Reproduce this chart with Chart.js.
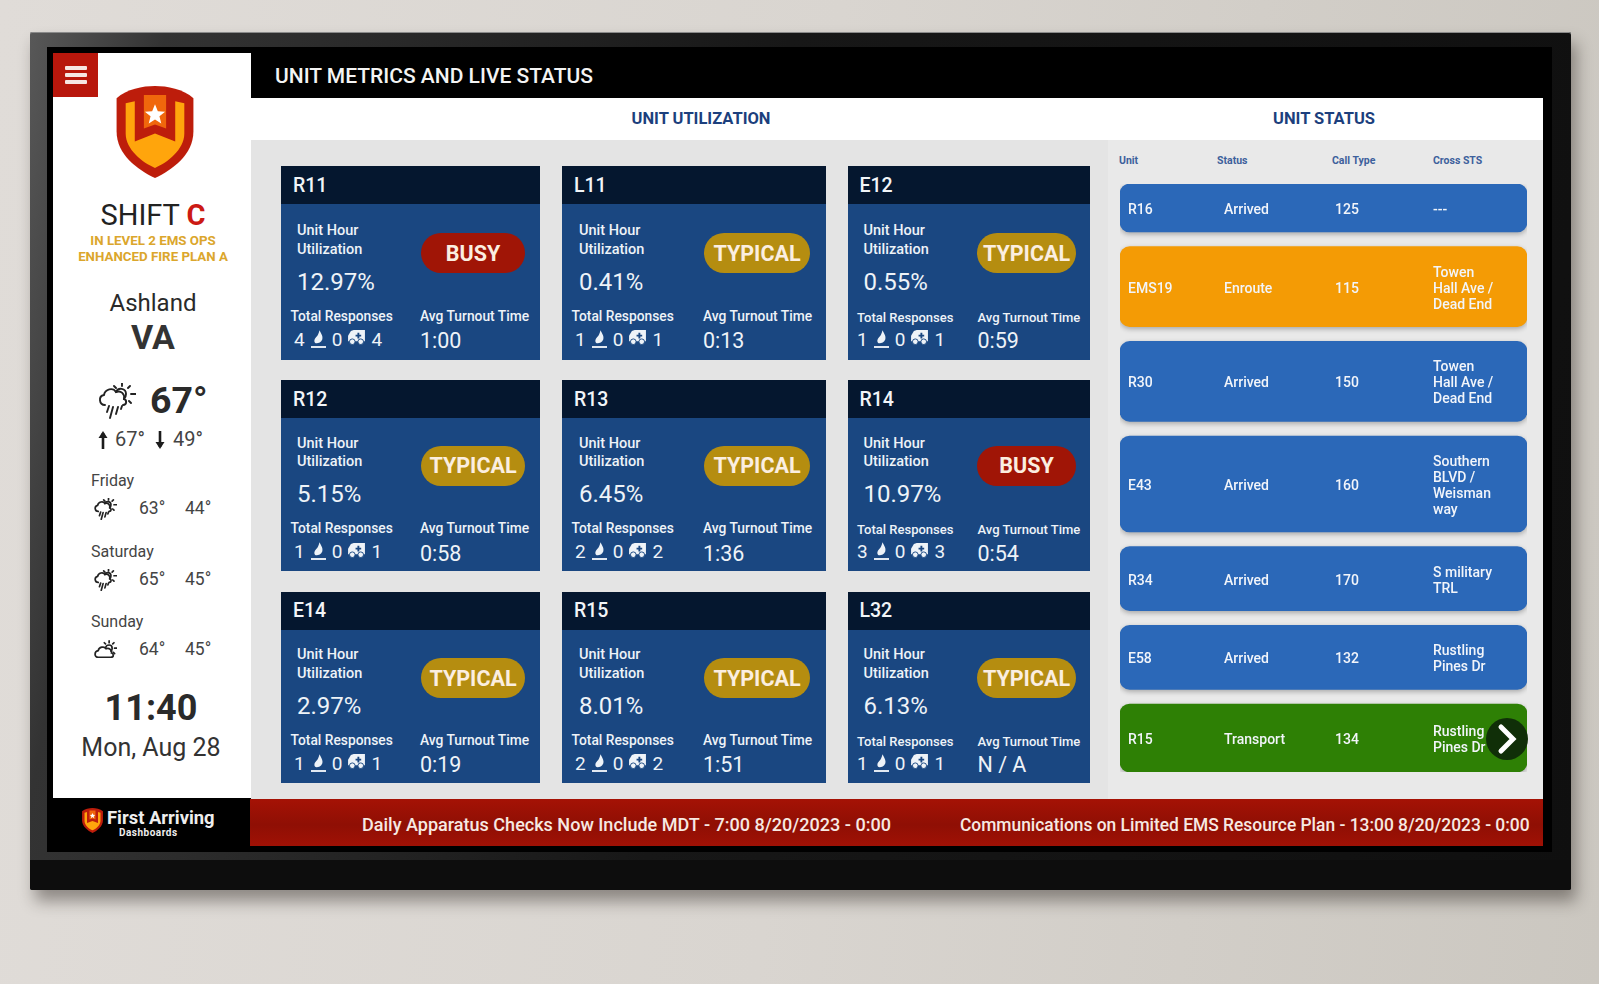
<!DOCTYPE html>
<html>
<head>
<meta charset="utf-8">
<title>Unit Metrics and Live Status</title>
<script src="https://cdn.jsdelivr.net/npm/chart.js@4"></script>
<style>
  html, body { margin: 0; padding: 0; width: 1599px; height: 984px; overflow: hidden; font-family: Roboto, sans-serif; }
  body { background: linear-gradient(95deg, #e0dcd8 0%, #d9d5d0 50%, #cbc7c0 100%); position: relative; }
  .abs, .abs * { box-sizing: border-box; }
  .abs { position: absolute; }
  .t { position: absolute; white-space: nowrap; line-height: 1; transform: translateY(-50%); }
  .c { transform: translate(-50%, -50%); }
  #tv { left: 30px; top: 32px; width: 1541px; height: 858px; background: linear-gradient(100deg, #585858 0, #333 8%, #171717 45%, #0f0f0f 100%); border-radius: 2px; box-shadow: 5px 11px 16px rgba(30,25,20,.42), inset 0 1px 0 #8a8a8a; }
  #tv-in { left: 47px; top: 47px; width: 1505px; height: 805px; background: #000; }
  #chin { left: 30px; top: 860px; width: 1541px; height: 30px; background: #0d0d0d; border-radius: 0 0 2px 2px; }
  #side { left: 53px; top: 53px; width: 198px; height: 745px; background: #fff; color: #333; }
  #burger { left: 53px; top: 53px; width: 45px; height: 44px; background: #b8170c; }
  #burger i { position: absolute; left: 12px; width: 22px; height: 4px; background: #f6e6e3; border-radius: 1px; }
  #topbar { left: 251px; top: 53px; width: 1292px; height: 45px; background: #000; }
  #sub { left: 251px; top: 98px; width: 1292px; height: 42px; background: #fff; }
  #main { left: 251px; top: 140px; width: 857px; height: 659px; background: #e4e4e4; }
  #right { left: 1108px; top: 140px; width: 435px; height: 659px; background: #e9e9e9; }
  #foot { left: 53px; top: 798px; width: 197px; height: 48px; background: #000; }
  #ticker { left: 250px; top: 799px; width: 1293px; height: 47px; background: linear-gradient(#a51205, #8f0f04 55%, #a01105); }
  .card { position: absolute; background: #1a4781; color: #eef3f8; }
  .card .hd { position: absolute; left: 0; top: 0; width: 100%; height: 38px; background: #05172f; }
  .pill { position: absolute; height: 40px; border-radius: 20px; color: #fbeee0; font-size: 21.5px; font-weight: 700; display: flex; align-items: center; justify-content: center; }
  .pill.busy { background: #a01506; }
  .pill.typical { background: #b58d10; }
  .counts { position: absolute; left: 13px; display: flex; align-items: center; font-size: 19px; font-weight: 400; height: 24px; transform: translateY(-50%); }
  .counts svg { display: block; }
  .rowtxt { position: absolute; color: #f2f5fa; font-size: 14px; font-weight: 500; line-height: 16px; transform: translateY(-50%); white-space: nowrap; }
  #next { left: 1486px; top: 718px; width: 42px; height: 42px; border-radius: 21px; background: #102f08; }
  #statusCanvas { position: absolute; left: 1110px; top: 174px; }
</style>
</head>
<body>

<svg width="0" height="0" style="position:absolute">
  <symbol id="rain" viewBox="0 0 38 36">
    <g fill="none" stroke="#222" stroke-linecap="round">
      <path d="M7 22 C1 22 0 13 6 12 C7 6 15 4 18 9 C23 7 27 11 26 16 C29 17 29 22 25 22"/>
      <path d="M18 9 C20 4 28 5 28 11 C28 13 27 15 26 16"/>
      <path d="M24 0 V3 M16 3 L18 5 M32 3 L30 5 M33 11 H38 M31 18 L33 20"/>
      <path d="M11 23 L9 29 M15 24 L12 35 M20 24 L18 31 M24 23 L23 26"/>
    </g>
  </symbol>
  <symbol id="cloud" viewBox="0 0 38 30">
    <g fill="none" stroke="#222" stroke-linecap="round">
      <path d="M7 27 C0 27 0 17 7 16 C8 10 17 8 20 13 C25 11 30 15 29 20 C33 21 33 27 28 27 Z"/>
      <path d="M19 12 C20 5 30 5 30 12 C30 14 29 16 28 17"/>
      <path d="M25 0 V3 M17 3 L19 5 M33 3 L31 5 M34 12 H38 M32 19 L34 21"/>
    </g>
  </symbol>
  <symbol id="arrow" viewBox="0 0 12 20">
    <path d="M6 19 V3" stroke="#1c1c1c" stroke-width="2.6" fill="none"/>
    <path d="M1.5 8 L6 1 L10.5 8 Z" fill="#1c1c1c"/>
  </symbol>
  <symbol id="flame" viewBox="0 0 16 20">
    <path fill="#eef3f8" d="M9 0 C11 4 13 6 12 10 C11 13 8 14 6 14 C3 14 3 10 5 8 C6 7 8 5 9 0 Z"/>
    <rect x="0" y="17" width="16" height="2" fill="#eef3f8"/>
  </symbol>
  <symbol id="amb" viewBox="0 0 18 16">
    <path fill="#eef3f8" d="M6 0 H18 V12 H0 V6 L3 1 Z"/>
    <circle cx="4.5" cy="12.5" r="3" fill="#eef3f8" stroke="#1a4781"/>
    <circle cx="13.5" cy="12.5" r="3" fill="#eef3f8" stroke="#1a4781"/>
    <path d="M11 3 V9 M8 6 H14" stroke="#1a4781" stroke-width="2"/>
  </symbol>
  <symbol id="shield" viewBox="0 0 76 91">
    <path fill="#bd1d0b" d="M38 0 C50 0 66 3 76 12 L76 45 C76 68 55 83 38 91 C21 83 0 68 0 45 L0 12 C10 3 26 0 38 0 Z"/>
    <path fill="#ffa50c" d="M9 17 L18 15 L18 55 L38 47 L58 55 L58 15 L67 17 L67 47 C67 63 50 76 38 81 C26 76 9 63 9 47 Z"/>
    <path fill="#f0670c" d="M27 9 L49 9 L49 42 L38 38 L27 42 Z"/>
    <path fill="#fff" d="M38 18 L40.8 25 L48 25.4 L42.4 30 L44.2 37 L38 33.2 L31.8 37 L33.6 30 L28 25.4 L35.2 25 Z"/>
  </symbol>
</svg>

<div class="abs" id="tv"></div>
<div class="abs" id="tv-in"></div>
<div class="abs" id="chin"></div>
<div class="abs" id="side"></div>
<div class="abs" id="burger"><i style="top:13px"></i><i style="top:20px"></i><i style="top:27px"></i></div>
<div class="abs" id="topbar"></div>
<div class="abs" id="sub"></div>
<div class="abs" id="main"></div>
<div class="abs" id="right"></div>
<div class="abs" id="foot"></div>
<div class="abs" id="ticker"></div>
<div id="layer"></div>
<canvas id="statusCanvas" width="427" height="608"></canvas>
<div id="rowLayer"></div>
<div class="abs" id="next">
  <svg width="42" height="42" viewBox="0 0 42 42"><path d="M15 9 L27 21 L15 33" fill="none" stroke="#fff" stroke-width="5" stroke-linecap="round"/></svg>
</div>

<script>
// unit utilization cards
const unitNames = ['R11', 'L11', 'E12', 'R12', 'R13', 'R14', 'E14', 'R15', 'L32'];
const utilization = ['12.97%', '0.41%', '0.55%', '5.15%', '6.45%', '10.97%', '2.97%', '8.01%', '6.13%'];
const loadLabels = ['BUSY', 'TYPICAL', 'TYPICAL', 'TYPICAL', 'TYPICAL', 'BUSY', 'TYPICAL', 'TYPICAL', 'TYPICAL'];
const totalResponses = [4, 1, 1, 1, 2, 3, 1, 2, 1];
const fireResponses = [0, 0, 0, 0, 0, 0, 0, 0, 0];
const emsResponses = [4, 1, 1, 1, 2, 3, 1, 2, 1];
const turnoutTimes = ['1:00', '0:13', '0:59', '0:58', '1:36', '0:54', '0:19', '1:51', 'N / A'];

// unit status rows
const statusUnits = ['R16', 'EMS19', 'R30', 'E43', 'R34', 'E58', 'R15'];
const statusNames = ['Arrived', 'Enroute', 'Arrived', 'Arrived', 'Arrived', 'Arrived', 'Transport'];
const callTypes = ['125', '115', '150', '160', '170', '132', '134'];
const crossStreets = [
  ['---'],
  ['Towen', 'Hall Ave /', 'Dead End'],
  ['Towen', 'Hall Ave /', 'Dead End'],
  ['Southern', 'BLVD /', 'Weisman', 'way'],
  ['S military', 'TRL'],
  ['Rustling', 'Pines Dr'],
  ['Rustling', 'Pines Dr']
];
const statusHeaders = ['Unit', 'Status', 'Call Type', 'Cross STS'];

// sidebar
const forecastDays = ['Friday', 'Saturday', 'Sunday'];
const forecastHigh = ['63°', '65°', '64°'];
const forecastLow = ['44°', '45°', '45°'];
const forecastIcon = ['rain', 'rain', 'cloud'];
const tickerItems = ['Daily Apparatus Checks Now Include MDT - 7:00 8/20/2023 - 0:00', 'Communications on Limited EMS Resource Plan - 13:00 8/20/2023 - 0:00'];

const statusColors = { Arrived: '#2b68b8', Enroute: '#f49b05', Transport: '#2e8005' };

const layer = document.getElementById('layer');

function addText(parent, text, x, y, css, center) {
  const el = document.createElement('div');
  el.className = center ? 't c' : 't';
  el.textContent = text;
  el.style.left = x + 'px';
  el.style.top = y + 'px';
  el.style.cssText += css;
  parent.appendChild(el);
  return el;
}

function addIcon(id, x, y, w, h, css) {
  const el = document.createElement('div');
  el.innerHTML = `<svg width="${w}" height="${h}" style="display:block;${css || ''}"><use href="#${id}"/></svg>`;
  el.style.cssText = `position:absolute;left:${x}px;top:${y}px;`;
  layer.appendChild(el);
}

// --- header texts
addText(layer, 'UNIT METRICS AND LIVE STATUS', 275, 76, 'font-size:21px;font-weight:500;color:#f4f4f4;');
addText(layer, 'UNIT UTILIZATION', 701, 118.5, 'font-size:16.5px;font-weight:700;color:#1c3f7d;', true);
addText(layer, 'UNIT STATUS', 1324, 118.5, 'font-size:16.5px;font-weight:700;color:#1c3f7d;', true);

// --- sidebar
addIcon('shield', 116, 86, 78, 92);
const shift = addText(layer, 'SHIFT ', 153, 215, 'font-size:29px;font-weight:400;color:#222;', true);
const shiftC = document.createElement('span');
shiftC.textContent = 'C';
shiftC.style.cssText = 'font-weight:700;color:#cc1a14;';
shift.appendChild(shiftC);
addText(layer, 'IN LEVEL 2 EMS OPS', 153, 241, 'font-size:13.3px;font-weight:700;color:#dba62c;', true);
addText(layer, 'ENHANCED FIRE PLAN A', 153, 257, 'font-size:13.3px;font-weight:700;color:#dba62c;', true);
addText(layer, 'Ashland', 153, 303, 'font-size:24px;color:#2a2a2a;', true);
addText(layer, 'VA', 153, 337, 'font-size:34px;font-weight:700;color:#333;', true);
addIcon('rain', 98, 383, 38, 36, 'stroke-width:1.9;');
addText(layer, '67°', 150, 401, 'font-size:37.5px;font-weight:700;color:#2a2a2a;');
addIcon('arrow', 97, 430, 12, 20);
addText(layer, '67°', 115, 439, 'font-size:20px;color:#444;');
addIcon('arrow', 154, 430, 12, 20, 'transform:scaleY(-1);');
addText(layer, '49°', 173, 439, 'font-size:20px;color:#444;');
forecastDays.forEach((day, i) => {
  const top = 481 + i * 70.5;
  addText(layer, day, 91, top, 'font-size:16px;color:#444;');
  addIcon(forecastIcon[i], 94, top + 17, 23, 22, 'stroke-width:2.8;');
  addText(layer, forecastHigh[i], 139, top + 28, 'font-size:17.5px;color:#444;');
  addText(layer, forecastLow[i], 185, top + 28, 'font-size:17.5px;color:#444;');
});
addText(layer, '11:40', 151, 708, 'font-size:36px;font-weight:700;color:#2a2a2a;', true);
addText(layer, 'Mon, Aug 28', 151, 747, 'font-size:25px;color:#333;', true);

// --- footer
addIcon('shield', 82, 808, 21, 25);
addText(layer, 'First Arriving', 107, 817.5, 'font-size:18.4px;font-weight:700;color:#eee;');
addText(layer, 'Dashboards', 119, 832.5, 'font-size:10px;font-weight:700;color:#eee;letter-spacing:.5px;');
addText(layer, tickerItems[0], 362, 823.5, 'font-size:19px;font-weight:500;color:#f7e9e2;transform:translateY(-50%) scaleX(.949);transform-origin:left center;');
addText(layer, tickerItems[1], 960, 823.5, 'font-size:19px;font-weight:500;color:#f7e9e2;transform:translateY(-50%) scaleX(.915);transform-origin:left center;');

// --- utilization cards
const colLeft = [281, 562, 847.5];
const colWidth = [259, 264, 242.5];
const colRight = [139, 141, 130];
const colUnitX = [16, 17, 16];
const colSmallFont = [13.8, 13.8, 13];
const pillWidth = [104, 106, 99];
const pillRight = [15, 16, 14];
const rowTop = [166, 380, 591.5];
const rowHeight = [194, 191, 191.5];
const pillTop = [67, 65.5, 66.5];

unitNames.forEach((name, i) => {
  const col = i % 3;
  const row = Math.floor(i / 3);
  const off = row === 0 ? 0 : -1.5;
  const card = document.createElement('div');
  card.className = 'card';
  card.style.cssText = `left:${colLeft[col]}px;top:${rowTop[row]}px;width:${colWidth[col]}px;height:${rowHeight[row]}px;`;
  card.innerHTML = '<div class="hd"></div>';
  layer.appendChild(card);

  const small = `font-size:${colSmallFont[col]}px;font-weight:500;`;
  addText(card, name, 12, 19.5, 'font-size:19.5px;font-weight:500;color:#f2f5f8;');
  addText(card, 'Unit Hour', colUnitX[col], 65 + off, 'font-size:14.5px;font-weight:500;');
  addText(card, 'Utilization', colUnitX[col], 83.5 + off, 'font-size:14.5px;font-weight:500;');
  addText(card, utilization[i], colUnitX[col], 115.5 + off, 'font-size:24px;font-weight:400;');
  addText(card, 'Total Responses', 9.5, 150.5 + off, small);
  addText(card, 'Avg Turnout Time', colRight[col], 150.5 + off, small);
  addText(card, turnoutTimes[i], colRight[col], 175 + off, 'font-size:21.5px;font-weight:400;');

  const counts = document.createElement('div');
  counts.className = 'counts';
  counts.style.top = (173 + off) + 'px';
  counts.style.left = (col === 2 ? 9.5 : 13) + 'px';
  counts.innerHTML = `<span>${totalResponses[i]}</span>
    <svg width="15" height="19" style="margin:0 6px 0 6px"><use href="#flame"/></svg>
    <span>${fireResponses[i]}</span>
    <svg width="17" height="15" style="margin:-3px 6px 0 6px"><use href="#amb"/></svg>
    <span>${emsResponses[i]}</span>`;
  card.appendChild(counts);

  const pill = document.createElement('div');
  pill.className = 'pill ' + loadLabels[i].toLowerCase();
  pill.textContent = loadLabels[i];
  pill.style.width = pillWidth[col] + 'px';
  pill.style.right = pillRight[col] + 'px';
  pill.style.top = pillTop[row] + 'px';
  card.appendChild(pill);
});

// --- unit status: one floating bar per row, height follows the cross street line count
const rowPad = 32;
const lineUnit = 16;
const rowGap = 14.7;
const buttonRowExtra = 4; // last row makes room for the next button
const rowSpans = [];
let cursor = 0;
crossStreets.forEach((lines, i) => {
  const extra = i === crossStreets.length - 1 ? buttonRowExtra : 0;
  const end = cursor + rowPad + lines.length * lineUnit + extra;
  rowSpans.push([cursor, end]);
  cursor = end + rowGap;
});
const spanTotal = cursor - rowGap;

const shadowPlugin = {
  id: 'rowShadow',
  beforeDatasetsDraw(c) {
    c.ctx.save();
    c.ctx.shadowColor = 'rgba(0,0,0,0.28)';
    c.ctx.shadowBlur = 5;
    c.ctx.shadowOffsetY = 2;
  },
  afterDatasetsDraw(c) { c.ctx.restore(); }
};

const statusChart = new Chart(document.getElementById('statusCanvas'), {
  type: 'bar',
  data: {
    labels: ['rows'],
    datasets: rowSpans.map((span, i) => ({
      label: statusUnits[i],
      data: [span],
      backgroundColor: statusColors[statusNames[i]],
      borderRadius: 10,
      borderSkipped: false,
      barPercentage: 1,
      categoryPercentage: 1,
      grouped: false
    }))
  },
  options: {
    responsive: false,
    animation: false,
    devicePixelRatio: 1,
    layout: { padding: { left: 10, right: 10, top: 10, bottom: 10 } },
    plugins: { legend: { display: false }, tooltip: { enabled: false } },
    scales: {
      x: { display: false },
      y: { display: false, reverse: true, min: 0, max: spanTotal }
    }
  },
  plugins: [shadowPlugin]
});

const rowLayer = document.getElementById('rowLayer');
const colX = [1128, 1224, 1335, 1433];
const headerX = [1119, 1217, 1332, 1433];

statusHeaders.forEach((h, i) => {
  addText(rowLayer, h, headerX[i], 161, 'font-size:10.5px;font-weight:700;color:#3d609c;');
});

rowSpans.forEach((span, i) => {
  const y = 175 + (statusChart.scales.y.getPixelForValue(span[0]) + statusChart.scales.y.getPixelForValue(span[1])) / 2;
  [statusUnits[i], statusNames[i], callTypes[i]].forEach((text, k) => {
    const el = document.createElement('div');
    el.className = 'rowtxt';
    el.textContent = text;
    el.style.left = colX[k] + 'px';
    el.style.top = y + 'px';
    rowLayer.appendChild(el);
  });
  const cross = document.createElement('div');
  cross.className = 'rowtxt';
  cross.innerHTML = crossStreets[i].join('<br>');
  cross.style.left = colX[3] + 'px';
  cross.style.top = y + 'px';
  rowLayer.appendChild(cross);
});
</script>
</body>
</html>
